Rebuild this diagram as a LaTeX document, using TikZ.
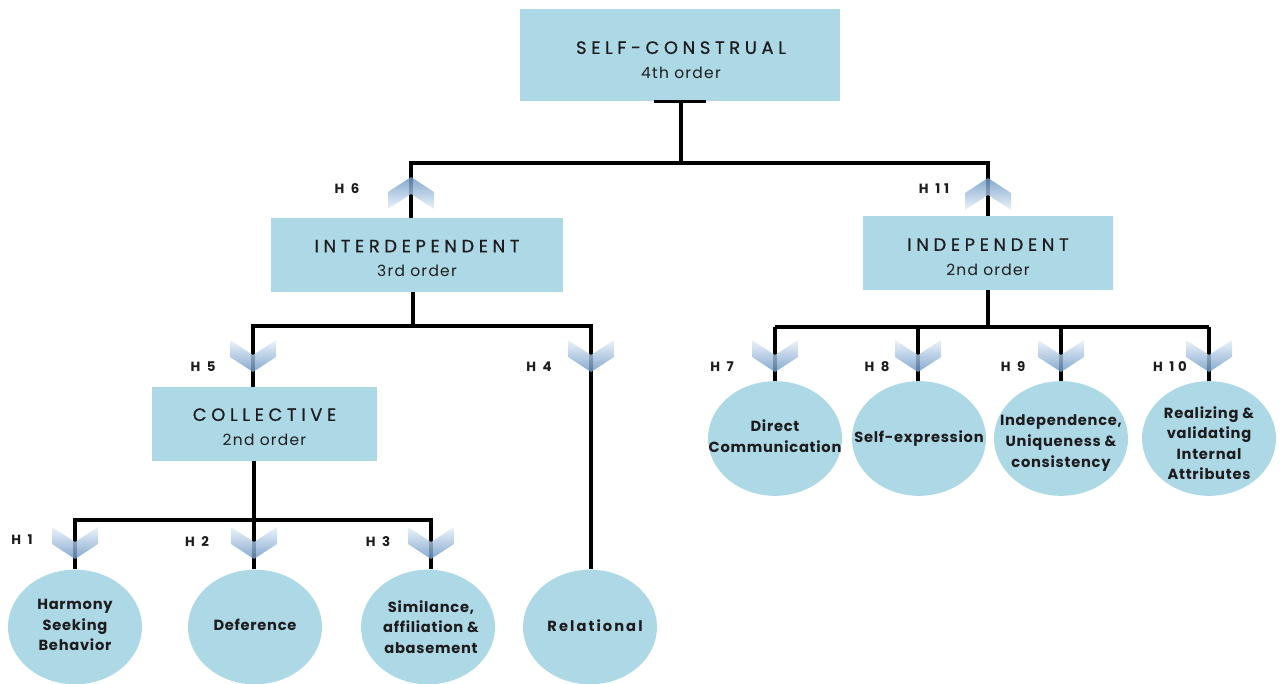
\documentclass[tikz,border=0pt]{standalone}
\usepackage{fontspec}
\setmainfont{Poppins}
\newfontfamily\titlefont[LetterSpace=26,FakeBold=0.7]{Poppins}
\newfontfamily\subfont[LetterSpace=8]{Poppins}
\newfontfamily\leaffont[LetterSpace=5]{Poppins}
\newfontfamily\relfont[LetterSpace=14]{Poppins}
\newfontfamily\hfont[LetterSpace=28]{Poppins}
\usetikzlibrary{shapes.geometric}

\definecolor{boxblue}{RGB}{173,216,230}
\definecolor{ink}{RGB}{28,28,30}
\definecolor{chevlight}{RGB}{232,240,249}
\definecolor{chevdark}{RGB}{105,150,196}

\tikzset{
  box/.style={rectangle, fill=boxblue, inner sep=0pt},
  boxtext/.style={align=center, text=ink, inner sep=0pt},
  leaf/.style={ellipse, fill=boxblue, minimum width=100.5pt, minimum height=86pt, inner sep=0pt},
  leaftext/.style={align=center, text=ink, font=\leaffont\bfseries\fontsize{11}{15.4}\selectfont},
  hlabel/.style={text=ink, font=\hfont\bfseries\fontsize{10}{12}\selectfont},
  link/.style={draw=black, line width=2.3pt, line join=miter},
  stem/.style={draw=black, line width=3pt},
  chevdown/.pic={
    \shade[top color=chevlight, bottom color=chevdark, opacity=0.82]
      (-23,0) -- (0,15) -- (23,0) -- (23,17) -- (0,32) -- (-23,17) -- cycle;
  },
  chevup/.pic={
    \shade[top color=chevdark, bottom color=chevlight, opacity=0.82]
      (-23,32) -- (0,17) -- (23,32) -- (23,15) -- (0,0) -- (-23,15) -- cycle;
  }
}
\newcommand\ttl[1]{{\titlefont\fontsize{13.4}{15}\selectfont #1}}
\newcommand\ord[1]{{\subfont\fontsize{11.6}{13}\selectfont #1}}

\begin{document}
\begin{tikzpicture}[x=0.75pt,y=-0.75pt]
\useasboundingbox (0,0) rectangle (1282,684);

% --- rectangular construct boxes ---
\node[box, minimum width=240pt, minimum height=69pt] (self) at (680,55) {};
\node[box, minimum width=219pt, minimum height=55.5pt] (inter) at (417,255) {};
\node[box, minimum width=187.5pt, minimum height=55.5pt] (indep) at (988,253) {};
\node[box, minimum width=168.75pt, minimum height=55.5pt] (coll) at (264.5,424) {};

\node[boxtext] (selfT) at (681,60) {\ttl{SELF-CONSTRUAL}\\[6.5pt]\ord{4th order}};
\node[boxtext] (interT) at (417,258.5) {\ttl{INTERDEPENDENT}\\[6.5pt]\ord{3rd order}};
\node[boxtext] (indepT) at (988,257) {\ttl{INDEPENDENT}\\[6.5pt]\ord{2nd order}};
\node[boxtext] (collT) at (264.5,427) {\ttl{COLLECTIVE}\\[6.5pt]\ord{2nd order}};

% --- first-order factors ---
\node[leaf] (harm) at (75,627) {};
\node[leaf] (defer) at (255,627) {};
\node[leaf] (simil) at (428,627) {};
\node[leaf] (relat) at (590,627) {};
\node[leaf] (direct) at (775,438.5) {};
\node[leaf] (selfex) at (919,438.5) {};
\node[leaf] (uniq) at (1061,438.5) {};
\node[leaf] (realz) at (1209,438.5) {};

\node[leaftext] (harmT) at (75,625) {Harmony\\Seeking\\Behavior};
\node[leaftext] (deferT) at (255,625) {Deference};
\node[leaftext] (similT) at (431,627) {Similance,\\affiliation \&\\abasement};
\node[leaftext, font=\relfont\bfseries\fontsize{11}{15.4}\selectfont] (relatT) at (595,626) {Relational};
\node[leaftext] (directT) at (775,436) {Direct\\Communication};
\node[leaftext] (selfexT) at (919,439) {Self-expression};
\node[leaftext] (uniqT) at (1061,443) {Independence,\\Uniqueness \&\\consistency};
\node[leaftext] (realzT) at (1209,443) {Realizing \&\\validating\\Internal\\Attributes};

% --- junction points ---
\coordinate (j0) at (681,163);
\coordinate (jL) at (411,163);
\coordinate (jR) at (988,163);
\coordinate (j3) at (413,326);
\coordinate (j5) at (253,326);
\coordinate (j4) at (591,326);
\coordinate (jc) at (254,520);
\coordinate (j1) at (75,520);
\coordinate (j2) at (431,520);
\coordinate (ji) at (988,327);
\coordinate (j7) at (775,327);
\coordinate (j8) at (918,327);
\coordinate (j9) at (1061,327);
\coordinate (j10) at (1209,327);

% --- connectors ---
\draw[link] ([xshift=-19.5pt]self.south) -- ([xshift=19.5pt]self.south);
\draw[stem] ([xshift=0.75pt]self.south) -- (j0);
\draw[link] (jL |- inter.north) -- (jL) -- (jR) -- (jR |- indep.north);

\draw[stem] (j3 |- inter.south) -- (j3);
\draw[link] (j5 |- coll.north) -- (j5) -- (j4) -- (j4 |- relat.north);

\draw[stem] (jc |- coll.south) -- (jc |- defer.north);
\draw[link] (j1 |- harm.north) -- (j1) -- (j2) -- (j2 |- simil.north);

\draw[stem] (ji |- indep.south) -- (ji);
\draw[link] (j7) -- (j10);
\foreach \j/\n in {j7/direct, j8/selfex, j9/uniq, j10/realz}
  \draw[link] (\j) -- (\j |- \n.north);

% --- direction chevrons ---
\pic at (411,177) {chevup};
\pic at (988,178) {chevup};
\pic at (253,340) {chevdown};
\pic at (591,340) {chevdown};
\pic at (75,527) {chevdown};
\pic at (254,527) {chevdown};
\pic at (431,527) {chevdown};
\pic at (775,340) {chevdown};
\pic at (918,340) {chevdown};
\pic at (1061,340) {chevdown};
\pic at (1209,340) {chevdown};

% --- hypothesis labels ---
\node[hlabel] (h6) at (347,189) {H 6};
\node[hlabel] (h11) at (934,189) {H 11};
\node[hlabel] (h5) at (203,367) {H 5};
\node[hlabel] (h4) at (539,367) {H 4};
\node[hlabel] (h1) at (22,540) {H 1};
\node[hlabel] (h2) at (197,542) {H 2};
\node[hlabel] (h3) at (378,542) {H 3};
\node[hlabel] (h7) at (722,367) {H 7};
\node[hlabel] (h8) at (877,367) {H 8};
\node[hlabel] (h9) at (1013,367) {H 9};
\node[hlabel] (h10) at (1170,367) {H 10};
\end{tikzpicture}
\end{document}
